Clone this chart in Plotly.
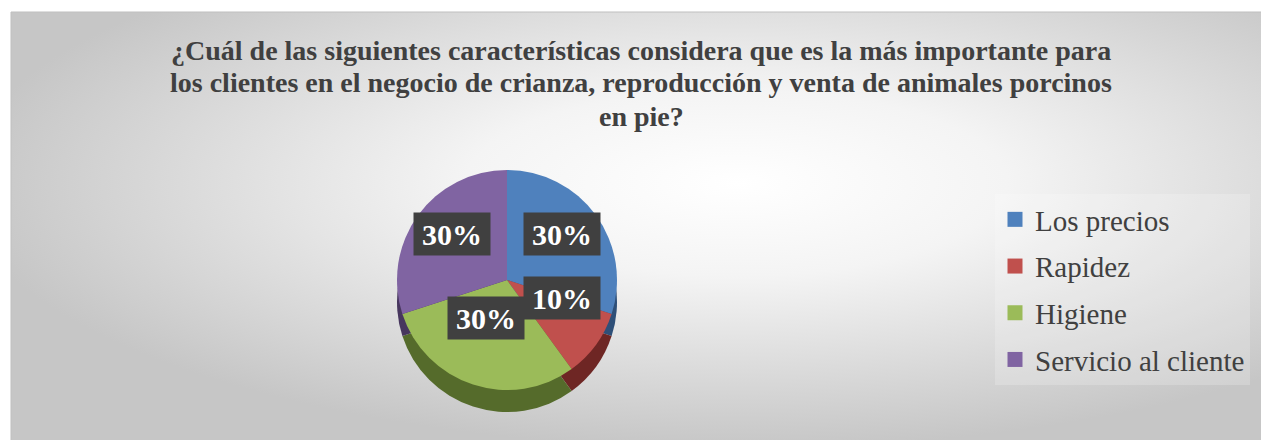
import base64
import math
import plotly.graph_objects as go

# data
categorias = ["Los precios", "Rapidez", "Higiene", "Servicio al cliente"]
valores = [30, 10, 30, 30]
colores = ["#4F81BD", "#C0504D", "#9BBB59", "#8064A2"]
colores_lado = ["#2E4F78", "#6E2624", "#556B2B", "#47365E"]
titulo = ["¿Cuál de las siguientes características considera que es la más importante para",
          "los clientes en el negocio de crianza, reproducción y venta de animales porcinos",
          "en pie?"]

W, H = 1261, 440


def px_x(x):
    return x / W


def px_y(y):
    return 1 - y / H


# fondo con degradado radial (estilo Office)
svg = ('<svg xmlns="http://www.w3.org/2000/svg" width="1250" height="428" '
       'preserveAspectRatio="none"><defs><radialGradient id="g" cx="0.58" cy="0.4" r="0.62">'
       '<stop offset="0" stop-color="#ffffff"/><stop offset="0.35" stop-color="#f4f4f4"/>'
       '<stop offset="1" stop-color="#c6c6c6"/></radialGradient></defs>'
       '<rect width="1250" height="428" fill="url(#g)"/></svg>')
fondo = "data:image/svg+xml;base64," + base64.b64encode(svg.encode()).decode()

# posición del pastel (px)
cx, cy, rad = 507, 280, 110
prof = 22
dom_x = [px_x(cx - rad), px_x(cx + rad)]
dom_y = [px_y(cy + rad), px_y(cy - rad)]
dom_y_lado = [px_y(cy + rad + prof), px_y(cy - rad + prof)]

fig = go.Figure()

# "lado" del pastel 3D
fig.add_trace(go.Pie(
    labels=categorias, values=valores, sort=False, direction="clockwise", rotation=0,
    marker=dict(colors=colores_lado, line=dict(width=0)),
    textinfo="none", hoverinfo="skip", showlegend=False,
    domain=dict(x=dom_x, y=dom_y_lado),
))
fig.add_trace(go.Pie(
    labels=categorias, values=valores, sort=False, direction="clockwise", rotation=0,
    marker=dict(colors=colores, line=dict(width=0)),
    textinfo="none", showlegend=False,
    domain=dict(x=dom_x, y=dom_y),
))

# leyenda
for cat, col in zip(categorias, colores):
    fig.add_trace(go.Scatter(
        x=[None], y=[None], mode="markers", name=cat, legendgroup=cat,
        marker=dict(symbol="square", size=15, color=col),
    ))

# etiquetas de porcentaje
total = sum(valores)
acum = 0
anots = []
for v in valores:
    medio = (acum + v / 2) / total * 2 * math.pi
    acum += v
    lx = cx + 0.62 * rad * math.sin(medio)
    ly = cy - 14 - 0.5 * rad * math.cos(medio)
    anots.append(dict(
        x=px_x(lx), y=px_y(ly), xref="paper", yref="paper", showarrow=False,
        xanchor="center", yanchor="middle",
        text="<b>%d%%</b>" % round(v / total * 100),
        font=dict(family="Liberation Serif", size=30, color="white"),
        bgcolor="#404040", borderpad=3, width=70, height=36,
    ))

# título, línea por línea
for i, linea in enumerate(titulo):
    anots.append(dict(
        x=px_x(641), y=px_y(50 + 33 * i), xref="paper", yref="paper", showarrow=False,
        xanchor="center", yanchor="middle", text="<b>" + linea + "</b>",
        font=dict(family="Liberation Serif", size=28, color="#404040"),
    ))

fig.update_layout(
    width=W, height=H,
    margin=dict(l=0, r=0, t=0, b=0),
    paper_bgcolor="white", plot_bgcolor="rgba(0,0,0,0)",
    xaxis=dict(visible=False), yaxis=dict(visible=False),
    legend=dict(x=px_x(995), y=px_y(194), xanchor="left", yanchor="top",
                font=dict(family="Liberation Serif", size=29, color="#404040"),
                bgcolor="rgba(255,255,255,0.2)", tracegroupgap=6),
    images=[dict(source=fondo, xref="paper", yref="paper", x=px_x(11), y=px_y(12),
                 sizex=1 - px_x(11), sizey=px_y(12), sizing="stretch", layer="below")],
    shapes=[dict(type="rect", xref="paper", yref="paper", x0=px_x(11), x1=1.01, y0=-0.01,
                 y1=px_y(12), line=dict(color="#bfbfbf", width=1))],
    annotations=anots,
)

fig.write_html("out.html", config={"displayModeBar": False},
               post_script="document.body.style.margin='0';document.body.style.overflow='hidden';")
